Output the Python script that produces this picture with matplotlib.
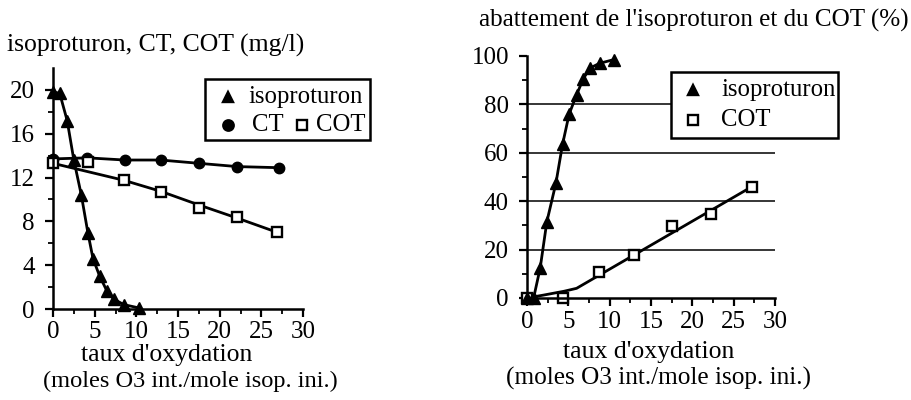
import matplotlib
matplotlib.use("Agg")
import matplotlib.pyplot as plt
from matplotlib.patches import Rectangle
from matplotlib.lines import Line2D

plt.rcParams['font.family'] = ['Liberation Serif', 'DejaVu Serif']

# --- gauche : concentrations (mg/l) ---
iso_x = [0, 0.8, 1.7, 2.5, 3.4, 4.2, 4.8, 5.6, 6.5, 7.3, 8.5, 10.3]
iso_y = [19.8, 19.7, 17.2, 13.6, 10.4, 6.9, 4.6, 3.0, 1.6, 0.9, 0.4, 0.1]
ct_x = [0, 4.1, 8.6, 12.9, 17.5, 22.1, 27.1]
ct_y = [13.7, 13.8, 13.6, 13.6, 13.3, 13.0, 12.9]
cot_x = [0, 4.2, 8.5, 12.9, 17.5, 22.1, 26.9]
cot_y = [13.3, 13.4, 11.8, 10.7, 9.2, 8.4, 7.0]
cot_fit_x = [0, 8.5, 12.9, 17.5, 22.1, 26.9]
cot_fit_y = [13.3, 11.75, 10.75, 9.5, 8.3, 7.0]

# --- droite : abattement (%) ---
abi_x = [0, 0.8, 1.6, 2.4, 3.5, 4.3, 5.1, 6.0, 6.8, 7.6, 8.8, 10.5]
abi_y = [0, 0, 12.5, 31.5, 47.5, 63.5, 76, 84, 90.5, 95, 97, 98.5]
abc_x = [0, 4.3, 8.7, 12.9, 17.6, 22.2, 27.2]
abc_y = [0, 0, 10.6, 17.6, 29.8, 34.7, 46]
abc_fit_x = [0, 2, 4.5, 6, 27.2]
abc_fit_y = [0, 1.2, 2.8, 4, 46]

W, H = 911, 400
fig = plt.figure(figsize=(W / 100, H / 100), dpi=100)


def box(x0, y0, x1, y1):
    # pixels (haut-gauche) -> fraction figure
    return [x0 / W, 1 - y1 / H, (x1 - x0) / W, (y1 - y0) / H]


def fp(x, y):
    return x / W, 1 - y / H


def style(ax):
    for s in ['top', 'right']:
        ax.spines[s].set_visible(False)
    for s in ['left', 'bottom']:
        ax.spines[s].set_linewidth(1.8)
    ax.tick_params(which='major', direction='out', length=6, width=1.6,
                   labelsize=18, pad=3)
    ax.tick_params(axis='y', which='major', pad=7)
    ax.tick_params(which='minor', direction='out', length=3.5, width=1.3)
    ax.set_xlim(0, 30)
    ax.set_xticks([0, 5, 10, 15, 20, 25, 30])
    ax.set_xticks([2.5, 7.5, 12.5, 17.5, 22.5, 27.5], minor=True)


ms = dict(color='black', linewidth=2.0, clip_on=False)
sq = dict(linestyle='none', marker='s', markersize=6.5, markerfacecolor='white',
          markeredgecolor='black', markeredgewidth=1.7, clip_on=False)

ax1 = fig.add_axes(box(53, 68, 303, 309))
style(ax1)
ax1.set_ylim(0, 22)
ax1.set_yticks([0, 4, 8, 12, 16, 20])
ax1.set_yticks([2, 6, 10, 14, 18], minor=True)
ax1.plot(ct_x, ct_y, marker='o', markersize=7.5, **ms)
ax1.plot(cot_fit_x, cot_fit_y, **ms)
ax1.plot(cot_x, cot_y, **sq)
ax1.plot(iso_x, iso_y, marker='^', markersize=8, **ms)

ax2 = fig.add_axes(box(527, 56, 775, 298))
style(ax2)
ax2.set_ylim(0, 100)
ax2.set_yticks([0, 20, 40, 60, 80, 100])
ax2.set_yticks([10, 30, 50, 70, 90], minor=True)
for g in [20, 40, 60, 80]:
    ax2.plot([0, 30], [g, g], color='black', linewidth=1.1, zorder=1)
ax2.plot(abc_fit_x, abc_fit_y, **ms)
ax2.plot(abc_x, abc_y, **sq)
ax2.plot(abi_x, abi_y, marker='^', markersize=8, **ms)

# titres et axes x
fs = 18.5
fig.text(*fp(7, 45), "isoproturon, CT, COT (mg/l)", fontsize=fs, va='center')
fig.text(*fp(479, 20), "abattement de l'isoproturon et du COT (%)",
         fontsize=18.1, va='center')
fig.text(*fp(167, 355), "taux d'oxydation", fontsize=fs, ha='center', va='center')
fig.text(*fp(190, 381), "(moles O3 int./mole isop. ini.)", fontsize=17.6,
         ha='center', va='center')
fig.text(*fp(649, 352), "taux d'oxydation", fontsize=fs, ha='center', va='center')
fig.text(*fp(659, 378), "(moles O3 int./mole isop. ini.)", fontsize=18.2,
         ha='center', va='center')


# légendes dessinées à la main
def legend_box(x0, y0, x1, y1):
    fig.add_artist(Rectangle(fp(x0, y1), (x1 - x0) / W, (y1 - y0) / H,
                             transform=fig.transFigure, facecolor='white',
                             edgecolor='black', linewidth=1.8, zorder=5))


def legend_item(x, y, marker, label, dx, filled=True):
    fig.add_artist(Line2D([x / W], [1 - y / H], transform=fig.transFigure,
                          marker=marker, markersize=6.5 if marker == 's' else 7.5,
                          markerfacecolor='black' if filled else 'white',
                          markeredgecolor='black', markeredgewidth=1.7,
                          linestyle='none', zorder=6))
    fig.text(*fp(x + dx, y), label, fontsize=17.8, va='center', zorder=6)


legend_box(205, 79, 370, 140)
legend_item(228, 97, '^', 'isoproturon', 20)
legend_item(228, 125, 'o', 'CT', 24)
legend_item(302, 125, 's', 'COT', 14, filled=False)

legend_box(671, 72, 838, 138)
legend_item(693, 90, '^', 'isoproturon', 28)
legend_item(693, 120, 's', 'COT', 28, filled=False)

fig.savefig("out.png", dpi=100)
